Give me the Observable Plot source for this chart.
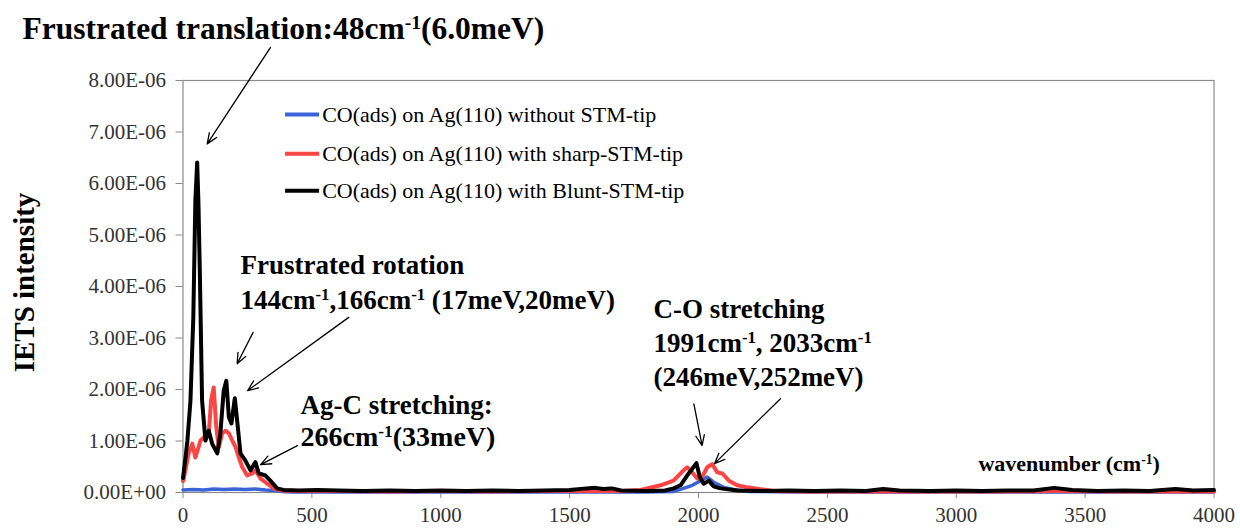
<!DOCTYPE html>
<html><head><meta charset="utf-8">
<script src="https://cdn.jsdelivr.net/npm/d3@7"></script>
<script src="https://cdn.jsdelivr.net/npm/@observablehq/plot@0.6"></script>
<style>body{margin:0;background:#fff} #chart svg{display:block}</style>
</head><body><div id="chart"></div>
<script>
// ---- data (intensities in units of 1E-06) ----
const seriesNames = [
  "CO(ads) on Ag(110) without STM-tip",
  "CO(ads) on Ag(110) with sharp-STM-tip",
  "CO(ads) on Ag(110) with Blunt-STM-tip"
];
const seriesColors = ["#3a63d8", "#ff4444", "#000000"];

const blueWn = [0, 40, 80, 120, 160, 200, 240, 280, 320, 360, 385, 420, 600, 800, 1000, 1200, 1400, 1600, 1800, 1900, 1930, 1976, 2008, 2034, 2059, 2098, 2137, 2200, 2400, 2600, 2800, 3000, 3200, 3400, 3600, 3800, 4000];
const blueI  = [0.05, 0.06, 0.05, 0.07, 0.06, 0.07, 0.06, 0.07, 0.05, 0.04, 0.02, 0.01, 0.01, 0.01, 0.01, 0.01, 0.01, 0.01, 0.01, 0.02, 0.06, 0.14, 0.23, 0.30, 0.20, 0.10, 0.06, 0.02, 0.01, 0.01, 0.01, 0.01, 0.01, 0.01, 0.01, 0.01, 0.01];

const redWn = [0, 3, 22, 36, 48, 68, 81, 100, 109, 119, 129, 139, 152, 165, 178, 191, 204, 216, 230, 249, 268, 281, 301, 327, 352, 380, 450, 600, 800, 1000, 1200, 1400, 1600, 1700, 1775, 1853, 1903, 1942, 1956, 1976, 1995, 2014, 2034, 2053, 2073, 2092, 2118, 2150, 2189, 2291, 2400, 2600, 2800, 3000, 3200, 3400, 3600, 3800, 4000];
const redI  = [0.22, 0.27, 0.76, 0.95, 0.68, 1.01, 1.07, 1.15, 1.79, 2.04, 1.27, 0.88, 1.15, 1.20, 1.15, 1.01, 0.88, 0.69, 0.49, 0.33, 0.37, 0.43, 0.27, 0.17, 0.08, 0.04, 0.03, 0.03, 0.02, 0.03, 0.02, 0.03, 0.03, 0.03, 0.05, 0.14, 0.23, 0.43, 0.49, 0.39, 0.27, 0.30, 0.49, 0.55, 0.39, 0.37, 0.23, 0.14, 0.10, 0.03, 0.02, 0.02, 0.02, 0.02, 0.02, 0.03, 0.02, 0.02, 0.02];

const blackWn = [0, 8, 17, 29, 40, 48, 55, 60, 65, 74, 87, 100, 113, 133, 145, 158, 168, 178, 188, 201, 210, 223, 242, 262, 281, 294, 320, 339, 365, 390, 450, 520, 600, 700, 800, 900, 1000, 1100, 1200, 1300, 1400, 1500, 1566, 1600, 1630, 1663, 1700, 1800, 1870, 1904, 1930, 1962, 1992, 2005, 2020, 2040, 2059, 2085, 2150, 2250, 2350, 2450, 2550, 2650, 2716, 2780, 2900, 3000, 3100, 3200, 3300, 3380, 3450, 3550, 3650, 3750, 3850, 3920, 4000];
const blackI  = [0.28, 0.6, 1.0, 1.79, 3.4, 5.67, 6.41, 5.6, 4.37, 1.79, 1.01, 1.20, 0.95, 0.76, 1.15, 1.98, 2.17, 1.46, 1.34, 1.83, 1.40, 0.76, 0.62, 0.43, 0.59, 0.37, 0.33, 0.23, 0.08, 0.05, 0.04, 0.05, 0.04, 0.03, 0.04, 0.03, 0.04, 0.03, 0.04, 0.03, 0.04, 0.05, 0.08, 0.09, 0.07, 0.08, 0.04, 0.03, 0.04, 0.08, 0.14, 0.37, 0.57, 0.30, 0.17, 0.23, 0.12, 0.08, 0.04, 0.03, 0.04, 0.03, 0.04, 0.03, 0.07, 0.04, 0.03, 0.04, 0.03, 0.04, 0.04, 0.09, 0.05, 0.03, 0.04, 0.03, 0.07, 0.04, 0.05];

const xTicks = [0, 500, 1000, 1500, 2000, 2500, 3000, 3500, 4000];
const xTickLabels = ["0", "500", "1000", "1500", "2000", "2500", "3000", "3500", "4000"];
const yTicks = [0, 1e-6, 2e-6, 3e-6, 4e-6, 5e-6, 6e-6, 7e-6, 8e-6];
const yTickLabels = ["0.00E+00", "1.00E-06", "2.00E-06", "3.00E-06", "4.00E-06", "5.00E-06", "6.00E-06", "7.00E-06", "8.00E-06"];

const yLabel = "IETS intensity";
const xLabel = "wavenumber (cm^{-1})";

// annotation texts (positions in data units: wavenumber, intensity ×1E-06)
const noteTexts = [
  "Frustrated translation:48cm^{-1}(6.0meV)",
  "Frustrated rotation",
  "144cm^{-1},166cm^{-1} (17meV,20meV)",
  "Ag-C stretching:",
  "266cm^{-1}(33meV)",
  "C-O stretching",
  "1991cm^{-1}, 2033cm^{-1}",
  "(246meV,252meV)"
];
const noteX = [-623, 223, 223, 456, 456, 1825, 1825, 1825];
const noteY = [9.01, 4.41, 3.73, 1.69, 1.07, 3.55, 2.89, 2.23];
const noteSize = [31.5, 27, 27, 27, 28, 27, 27, 27];

const arrowX1 = [339, 272, 643, 444, 1982, 2318];
const arrowY1 = [8.64, 3.11, 3.40, 0.91, 1.72, 1.82];
const arrowX2 = [94, 210, 251, 301, 2014, 2062];
const arrowY2 = [6.77, 2.50, 1.98, 0.54, 0.91, 0.56];

const legendX1 = 396, legendX2 = 528, legendTextX = 540;
const legendY = [7.34, 6.58, 5.86];

// ---- build ----
const E = 1e-6;
const mk = (wn, iv) => wn.map((w, i) => ({wn: w, v: iv[i] * E}));
const blue = mk(blueWn, blueI), red = mk(redWn, redI), black = mk(blackWn, blackI);
const notes = noteTexts.map((t, i) => ({t, x: noteX[i], y: noteY[i] * E, s: noteSize[i]}));
const arrows = arrowX1.map((x, i) => ({x1: x, y1: arrowY1[i] * E, x2: arrowX2[i], y2: arrowY2[i] * E}));
const legend = seriesNames.map((n, i) => ({n, c: seriesColors[i], y: legendY[i] * E}));

const gray = "#8a8a8a";
const chart = Plot.plot({
  width: 1240, height: 531,
  marginLeft: 182.5, marginRight: 26.5, marginTop: 80, marginBottom: 39,
  style: {fontFamily: "'Liberation Serif', 'Times New Roman', serif", background: "#fff", color: "#000"},
  x: {domain: [0, 4000], label: null},
  y: {domain: [0, 8e-6], label: null},
  marks: [
    Plot.frame({stroke: gray, strokeWidth: 1.2}),
    Plot.axisX({ticks: xTicks, tickFormat: d => xTickLabels[xTicks.indexOf(d)], tickSize: 6, tickPadding: 9, stroke: gray, fill: "#333", fontSize: 21, label: null}),
    Plot.axisY({ticks: yTicks, tickFormat: d => yTickLabels[yTicks.indexOf(d)], tickSize: 7, tickPadding: 10, stroke: gray, fill: "#333", fontSize: 21, label: null}),
    Plot.line(blue, {x: "wn", y: "v", stroke: seriesColors[0], strokeWidth: 3.5, strokeLinejoin: "round"}),
    Plot.line(red, {x: "wn", y: "v", stroke: seriesColors[1], strokeWidth: 4, strokeLinejoin: "round"}),
    Plot.line(black, {x: "wn", y: "v", stroke: seriesColors[2], strokeWidth: 4, strokeLinejoin: "round"}),
    Plot.link(legend, {x1: () => legendX1, x2: () => legendX2, y1: "y", y2: "y", stroke: "c", strokeWidth: 4}),
    Plot.text(legend, {x: () => legendTextX, y: "y", text: "n", textAnchor: "start", fontSize: 22, fill: "#000"}),
    Plot.arrow(arrows, {x1: "x1", y1: "y1", x2: "x2", y2: "y2", stroke: "#000", strokeWidth: 1.3, headLength: 13, headAngle: 45}),
    ...notes.map(n => Plot.text([n], {x: "x", y: "y", text: "t", textAnchor: "start", fontSize: n.s, fontWeight: "bold", fill: "#000"})),
    Plot.text([xLabel], {x: () => 3086, y: () => 0.56 * E, text: d => d, textAnchor: "start", fontSize: 22, fontWeight: "bold", fill: "#000"}),
    Plot.text([yLabel], {frameAnchor: "left", textAnchor: "middle", dx: -158, dy: -4, rotate: -90, text: d => d, fontSize: 29, fontWeight: "bold", fill: "#000"})
  ]
});
document.getElementById("chart").appendChild(chart);

// superscripts: turn "^{...}" into raised tspans
const NS = "http://www.w3.org/2000/svg";
chart.querySelectorAll("text, tspan").forEach(el => {
  if (el.children.length) return;
  const s = el.textContent;
  if (!s.includes("^{")) return;
  el.textContent = "";
  s.split(/\^\{([^}]*)\}/).forEach((p, i) => {
    if (!p) return;
    const t = document.createElementNS(NS, "tspan");
    t.textContent = p;
    if (i % 2) { t.setAttribute("baseline-shift", "super"); t.setAttribute("font-size", "62%"); }
    el.appendChild(t);
  });
});
</script>
</body></html>
